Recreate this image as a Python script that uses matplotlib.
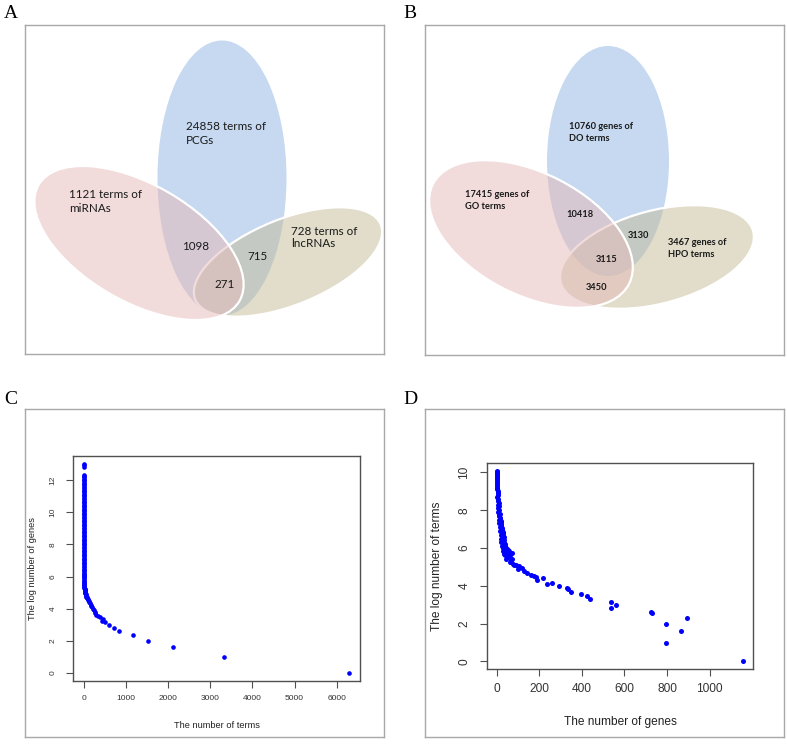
import numpy as np
import matplotlib.pyplot as plt
from matplotlib.patches import Ellipse

# ---- panel A/B: Venn counts ----
venn_a_labels = ["24858 terms of\nPCGs", "1121 terms of\nmiRNAs", "728 terms of\nlncRNAs"]
venn_a_overlaps = ["1098", "715", "271"]
venn_b_labels = ["10760 genes of\nDO terms", "17415 genes of\nGO terms", "3467 genes of\nHPO terms"]
venn_b_overlaps = ["10418", "3130", "3115", "3450"]

# ---- panel C: number of terms vs log2 number of genes ----
tail_terms_c = [6300, 3335, 2115, 1530, 1170, 830, 712, 595, 500, 460,
                440, 380, 340, 300, 275, 262, 250, 230, 205, 185]
tail_log_c = [0.0, 1.0, 1.585, 2.0, 2.32, 2.585, 2.807, 3.0, 3.17, 3.32,
              3.25, 3.46, 3.52, 3.58, 3.7, 3.81, 3.91, 4.0, 4.09, 4.17]
col_terms_c = [165, 148, 132, 118, 104, 95, 85, 76, 68, 60,
               54, 48, 43, 39, 35, 31, 28, 25, 23, 21,
               19, 17, 15, 14, 13, 12, 11, 10, 9, 9,
               8, 8, 7, 7, 6, 6, 6, 5, 5, 5,
               4, 4, 4, 4, 3, 3, 3, 3, 3, 3,
               2, 2, 2, 2, 2, 2, 2, 2, 2, 2,
               1, 1, 1, 1, 1, 1, 1, 1, 1, 1,
               1, 1, 1, 1, 1, 1, 1, 1, 1, 1,
               1, 1, 1, 1, 1, 1, 1, 1, 1, 1,
               1, 1, 1, 1, 1, 1, 1, 1, 1, 1,
               1, 1, 1, 1, 1, 1, 1, 1, 1, 1]
col_log_c = [4.25, 4.32, 4.39, 4.46, 4.52, 4.58, 4.64, 4.70, 4.75, 4.81,
             4.86, 4.91, 4.95, 5.00, 5.04, 5.09, 5.13, 5.17, 5.21, 5.25,
             5.29, 5.36, 5.43, 5.49, 5.55, 5.61, 5.67, 5.73, 5.81, 5.88,
             5.95, 6.02, 6.09, 6.17, 6.25, 6.33, 6.41, 6.50, 6.58, 6.66,
             6.75, 6.83, 6.92, 7.00, 7.09, 7.17, 7.26, 7.34, 7.43, 7.51,
             7.60, 7.68, 7.77, 7.85, 7.94, 8.02, 8.11, 8.19, 8.28, 8.36,
             8.45, 8.53, 8.62, 8.70, 8.79, 8.87, 8.96, 9.04, 9.13, 9.21,
             9.30, 9.38, 9.47, 9.55, 9.64, 9.72, 9.81, 9.89, 9.98, 10.06,
             10.15, 10.23, 10.32, 10.40, 10.49, 10.57, 10.66, 10.74, 10.83, 10.91,
             11.00, 11.08, 11.17, 11.25, 11.34, 11.42, 11.51, 11.60, 11.68, 11.77,
             11.85, 11.94, 12.02, 12.11, 12.19, 12.28, 12.32, 12.86, 12.93, 13.00]

# ---- panel D: number of genes vs log2 number of terms ----
tail_genes_d = [1158, 793, 793, 864, 895, 731, 724, 535, 535, 559,
                437, 426, 394, 347, 335, 330, 293, 261, 238, 219]
tail_log_d = [0.0, 1.0, 2.0, 1.585, 2.32, 2.585, 2.6, 2.807, 3.17, 3.0,
              3.32, 3.46, 3.58, 3.7, 3.81, 3.9, 4.0, 4.17, 4.09, 4.39]
col_genes_d = [191, 183, 175, 160, 144, 128, 120, 105, 90, 75,
               67, 60, 45, 100, 80, 55, 70, 40, 50, 34,
               62, 30, 47, 28, 42, 25, 37, 22, 33, 20,
               30, 18, 27, 16, 24, 14, 21, 12, 19, 10,
               16, 9, 14, 7, 12, 6, 10, 5, 9, 4,
               7, 3, 6, 4, 5, 2, 3, 1, 2, 0,
               1, 0, 0, 1, 0, 2, 1, 0, 1, 0,
               70, 58, 50, 40, 35, 60, 52, 45, 38, 32,
               33, 28, 24, 20, 26, 22, 18, 30, 15, 12]
col_log_d = [4.32, 4.46, 4.52, 4.58, 4.66, 4.81, 4.94, 5.03, 5.09, 5.17,
             5.35, 5.26, 5.43, 4.90, 5.10, 5.50, 5.40, 5.61, 5.55, 5.70,
             5.65, 5.87, 5.80, 6.00, 5.95, 6.10, 6.20, 6.30, 6.40, 6.50,
             6.60, 6.70, 6.80, 6.90, 7.00, 7.10, 7.20, 7.30, 7.40, 7.50,
             7.60, 7.70, 7.80, 7.90, 8.00, 8.10, 8.20, 8.30, 8.40, 8.50,
             8.60, 8.70, 8.80, 8.90, 9.00, 9.10, 9.20, 9.30, 9.40, 9.50,
             9.60, 9.70, 9.85, 9.95, 10.10, 9.75, 9.65, 9.90, 10.00, 10.05,
             5.75, 5.85, 5.95, 6.05, 6.15, 5.70, 5.90, 6.00, 6.10, 6.25,
             6.60, 6.75, 6.95, 7.15, 7.05, 7.25, 7.45, 6.85, 7.60, 7.75]

W, H = 787, 744
fig = plt.figure(figsize=(W / 100, H / 100), dpi=100)

BOX = "#a8a8a8"
BLUE, PINK, OLIVE = "#c6d9f0", "#e6b9b8", "#c4bd97"


def px_axes(l, t, r, b):
    return fig.add_axes([l / W, 1 - b / H, (r - l) / W, (b - t) / H])


def frame_only(ax):
    ax.set_xticks([])
    ax.set_yticks([])
    for s in ax.spines.values():
        s.set_color(BOX)
        s.set_linewidth(1.0)


def venn(ax, box, blue, pink, olive):
    l, t, r, b = box
    ax.set_xlim(l, r)
    ax.set_ylim(b, t)
    frame_only(ax)
    ax.add_patch(Ellipse(blue[:2], blue[2], blue[3], angle=blue[4],
                         fc=BLUE, ec="none"))
    ax.add_patch(Ellipse(olive[:2], olive[2], olive[3], angle=olive[4],
                         fc=OLIVE, alpha=0.5, ec="none"))
    ax.add_patch(Ellipse(olive[:2], olive[2], olive[3], angle=olive[4],
                         fc="none", ec="white", lw=1.6))
    ax.add_patch(Ellipse(pink[:2], pink[2], pink[3], angle=pink[4],
                         fc=PINK, alpha=0.5, ec="none"))
    ax.add_patch(Ellipse(pink[:2], pink[2], pink[3], angle=pink[4],
                         fc="none", ec="white", lw=1.6))


# ---- A ----
box_a = (25, 25, 384, 354)
ax_a = px_axes(*box_a)
venn(ax_a, box_a, (222, 178, 129, 275, 0), (139, 243, 232, 117, 30),
     (288, 262, 200, 86, -22))
va_font = dict(family=["Lato", "DejaVu Sans"], fontsize=8.4, color="#1a1a1a")
ax_a.text(186, 133.5, venn_a_labels[0], ha="left", va="center", linespacing=1.25, **va_font)
ax_a.text(69, 201.5, venn_a_labels[1], ha="left", va="center", linespacing=1.25, **va_font)
ax_a.text(291, 237.5, venn_a_labels[2], ha="left", va="center", linespacing=1.1, **va_font)
for (x, y), s in zip([(196, 246), (257, 257), (225, 285)], venn_a_overlaps):
    ax_a.text(x, y, s, ha="center", va="center", **va_font)

# ---- B ----
box_b = (425, 25, 784, 355)
ax_b = px_axes(*box_b)
venn(ax_b, box_b, (608, 161, 122, 230, 0), (531, 234, 220, 122, 27),
     (657, 257, 199, 93, -15))
vb_font = dict(family=["Lato", "DejaVu Sans"], fontsize=6.7, fontweight="bold",
               color="#1a1a1a")
ax_b.text(569, 132.5, venn_b_labels[0], ha="left", va="center", linespacing=1.3, **vb_font)
ax_b.text(465, 200.5, venn_b_labels[1], ha="left", va="center", linespacing=1.3, **vb_font)
ax_b.text(668, 248.5, venn_b_labels[2], ha="left", va="center", linespacing=1.3, **vb_font)
for (x, y), s in zip([(580, 214), (638, 235), (607, 259), (596, 287)], venn_b_overlaps):
    ax_b.text(x, y, s, ha="center", va="center", **vb_font)

# ---- C / D outer boxes ----
frame_only(px_axes(25, 409, 384, 737))
frame_only(px_axes(425, 409, 784, 737))


def scatter_panel(ax, x, y, xlim, ylim, xticks, yticks, xlabel, ylabel,
                  fs_tick, fs_lab, ticklen, ms, xpad, ypad):
    ax.scatter(x, y, s=ms, c="#0000ff", marker="o", lw=0)
    ax.set_xlim(*xlim)
    ax.set_ylim(*ylim)
    ax.set_xticks(xticks)
    ax.set_yticks(yticks)
    for s in ax.spines.values():
        s.set_color("#505050")
        s.set_linewidth(1.0)
    ax.tick_params(colors="#505050", labelcolor="#333333", length=ticklen,
                   width=0.8, labelsize=fs_tick, pad=5)
    ax.tick_params(axis="y", labelrotation=90, pad=7)
    plt.setp(ax.get_yticklabels(), va="center")
    ax.set_xlabel(xlabel, fontsize=fs_lab, color="#222222", labelpad=xpad)
    ax.set_ylabel(ylabel, fontsize=fs_lab, color="#222222", labelpad=ypad)


plt.rcParams["font.family"] = ["Liberation Sans", "DejaVu Sans"]

ax_c = px_axes(73, 456, 360, 681)
scatter_panel(ax_c, tail_terms_c + col_terms_c, tail_log_c + col_log_c,
              (-252, 6552), (-0.52, 13.52),
              range(0, 7000, 1000), range(0, 13, 2),
              "The number of terms", "The log number of genes",
              6.0, 6.7, 5, 11, 14, 9)

ax_d = px_axes(487, 463, 753, 669)
scatter_panel(ax_d, tail_genes_d + col_genes_d, tail_log_d + col_log_d,
              (-46, 1204), (-0.4, 10.5),
              range(0, 1001, 200), range(0, 11, 2),
              "The number of genes", "The log number of terms",
              8.6, 8.6, 5, 13, 15, 11)

pl = dict(family=["Liberation Serif", "DejaVu Serif"], fontsize=14, va="baseline",
          ha="left")
fig.text(4 / W, 1 - 18 / H, "A", **pl)
fig.text(403 / W, 1 - 18 / H, "B", **pl)
fig.text(4 / W, 1 - 404 / H, "C", **pl)
fig.text(403 / W, 1 - 404 / H, "D", **pl)

fig.savefig("out.png", dpi=100)
